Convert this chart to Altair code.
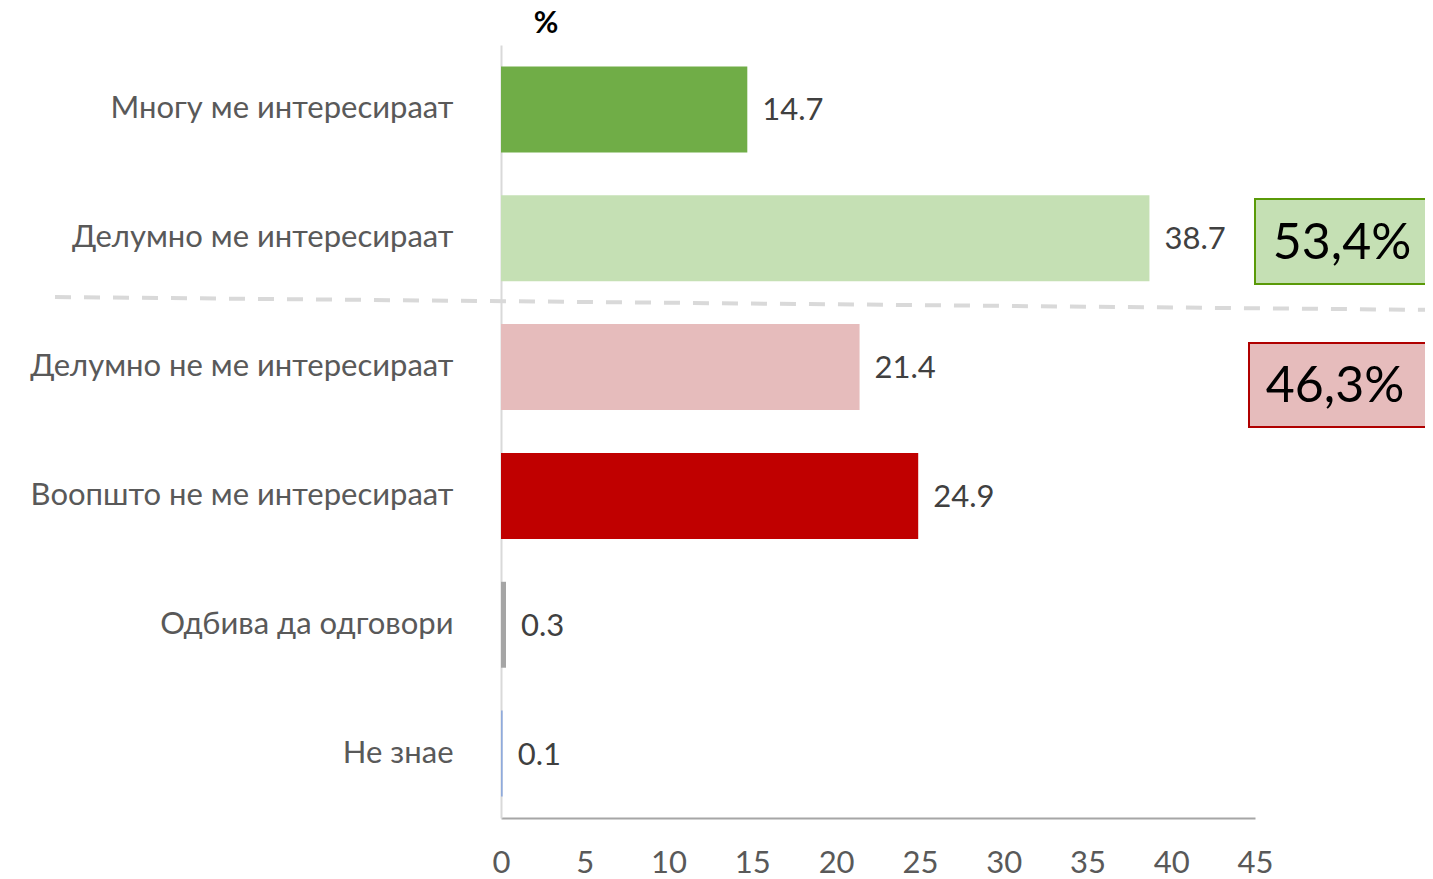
import altair as alt
import pandas as pd

categories = ["Многу ме интересираат", "Делумно ме интересираат", "Делумно не ме интересираат",
              "Воопшто не ме интересираат", "Одбива да одговори", "Не знае"]
values = [14.7, 38.7, 21.4, 24.9, 0.3, 0.1]
colors = ["#70AD47", "#C5E0B4", "#E6BCBC", "#C00000", "#A5A5A5", "#8FAADC"]
x_ticks = [0, 5, 10, 15, 20, 25, 30, 35, 40, 45]
box_labels = ["53,4%", "46,3%"]

FONT = "Lato"
FS = 31
df = pd.DataFrame({"cat": categories, "val": values, "color": colors,
                   "lab": [f"{v:.1f}" for v in values]})

W, H = 754, 773

y_enc = alt.Y("cat:N", sort=categories, scale=alt.Scale(paddingInner=0.333, paddingOuter=0.1665),
              axis=alt.Axis(title=None, labelFontSize=FS, labelColor="#595959", labelFont=FONT,
                            labelPadding=48, ticks=False, domainColor="#D9D9D9", domainWidth=2,
                            labelLimit=600))
x_enc = alt.X("val:Q", scale=alt.Scale(domain=[0, 45], nice=False),
              axis=alt.Axis(title=None, values=x_ticks, labelFontSize=FS, labelColor="#595959",
                            labelFont=FONT, labelPadding=30, ticks=False, grid=False,
                            labelFlush=False, labelOverlap=False,
                            domainColor="#A6A6A6", domainWidth=2))

bars = alt.Chart(df).mark_bar().encode(y=y_enc, x=x_enc, color=alt.Color("color:N", scale=None))
labels = alt.Chart(df).mark_text(align="left", baseline="middle", dx=15, dy=2, fontSize=FS,
                                 font=FONT, color="#404040").encode(
    y=alt.Y("cat:N", sort=categories), x="val:Q", text="lab:N")

one = alt.Data(values=[{"a": 1}])
pct = alt.Chart(one).mark_text(text="%", fontSize=30, fontWeight="bold", font=FONT,
                               color="#000000", align="center", baseline="alphabetic").encode(
    x=alt.value(45), y=alt.value(-12))
dash = alt.Chart(one).mark_rule(color="#D9D9D9", strokeWidth=4, strokeDash=[16, 13]).encode(
    x=alt.value(-446), y=alt.value(252), x2=alt.value(940), y2=alt.value(265))
box1 = alt.Chart(one).mark_rect(fill="#C5E0B4", stroke="#5A9A08", strokeWidth=2).encode(
    x=alt.value(754), x2=alt.value(960), y=alt.value(154), y2=alt.value(239))
box2 = alt.Chart(one).mark_rect(fill="#E6BCBC", stroke="#B00000", strokeWidth=2).encode(
    x=alt.value(748), x2=alt.value(960), y=alt.value(298), y2=alt.value(382))
t1 = alt.Chart(one).mark_text(text=box_labels[0], fontSize=50, font=FONT, color="#000000",
                              align="center", baseline="middle").encode(
    x=alt.value(841), y=alt.value(199))
t2 = alt.Chart(one).mark_text(text=box_labels[1], fontSize=50, font=FONT, color="#000000",
                              align="center", baseline="middle").encode(
    x=alt.value(834), y=alt.value(342))

chart = alt.layer(bars, labels, dash, box1, box2, t1, t2, pct).properties(
    width=W, height=H,
    background="white",
    autosize=alt.AutoSizeParams(type="none"),
    padding={"left": 493, "top": 37, "right": 170, "bottom": 60},
).configure_view(stroke=None, strokeWidth=0)

chart.save("out.html", embed_options={"renderer": "svg", "actions": False})
